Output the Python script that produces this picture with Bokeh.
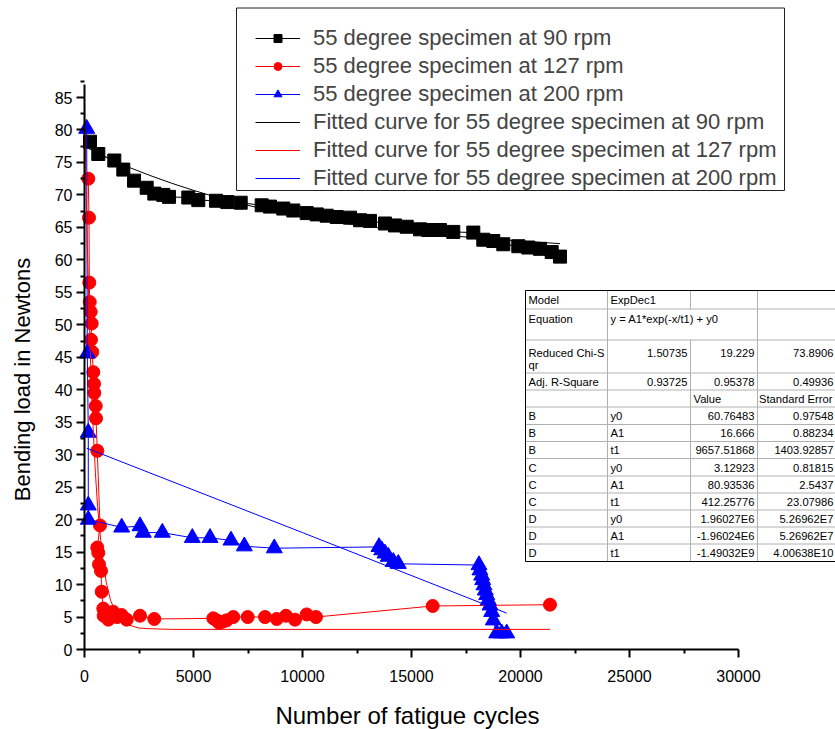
import math
from bokeh.plotting import figure
from bokeh.models import Range1d, FixedTicker, Legend, LegendItem, BoxAnnotation, Label
from bokeh.embed import file_html
from bokeh.resources import INLINE
from bokeh.core.properties import value

# ---------------- data ----------------
cycles_90 = [252, 633, 1367, 1780, 2271, 2853, 3202, 3615, 3876, 4761, 5220, 6032, 6550, 7165,
             8128, 8509, 9119, 9578, 10193, 10651, 11110, 11569, 12179, 12638, 13096, 13784, 14243,
             14780, 15390, 15771, 16307, 16917, 17835, 18294, 18752, 19211, 19899, 20358, 20894,
             21431, 21812]
load_90 = [78.2, 76.3, 75.3, 73.9, 72.2, 71.1, 70.2, 70.0, 69.7, 69.6, 69.2, 69.1, 68.9, 68.8,
           68.4, 68.2, 67.9, 67.6, 67.2, 67.0, 66.8, 66.6, 66.5, 66.1, 66.0, 65.6, 65.3,
           65.1, 64.7, 64.6, 64.6, 64.3, 64.2, 63.1, 62.9, 62.4, 62.1, 61.9, 61.7,
           61.2, 60.5]

cycles_127 = [174, 206, 220, 240, 284, 330, 298, 358, 404, 436, 450, 514, 528, 587, 711, 587, 633,
              665, 757, 789, 862, 880, 1092, 1321, 1500, 1706, 1936, 2546, 3202, 5908, 6050, 6183,
              6350, 6523, 6826, 7486, 8280, 8817, 9243, 9656, 10193, 10619, 15972, 21353]
load_127 = [72.5, 66.5, 56.5, 53.5, 52.0, 50.2, 47.7, 45.8, 42.7, 40.9, 39.5, 37.5, 35.6, 30.6, 19.1,
            15.7, 14.9, 13.1, 12.1, 8.9, 6.3, 5.2, 4.6, 5.8, 5.0, 5.3, 4.6, 5.2, 4.7, 4.8, 4.5, 4.1,
            4.3, 4.5, 5.0, 5.0, 5.0, 4.7, 5.2, 4.6, 5.4, 5.0, 6.7, 6.9]

cycles_200 = [101, 128, 174, 174, 174, 1706, 2546, 2697, 3569, 4945, 5757, 6720, 7330, 8706, 13509,
              13633, 13784, 13936, 14165, 14394, 18096, 18142, 18220, 18266, 18326, 18385, 18450,
              18523, 18601, 18679, 18752, 18908, 19138, 19367]
load_200 = [80.2, 45.6, 33.4, 22.2, 20.0, 18.8, 19.0, 18.0, 18.0, 17.2, 17.2, 16.8, 15.9, 15.6, 15.8,
            15.3, 14.8, 14.3, 13.5, 13.2, 13.0, 12.2, 11.4, 10.7, 9.9, 9.1, 8.4,
            7.6, 6.8, 5.8, 4.5, 2.5, 2.5, 2.5]

fit_90_x = [100, 1000, 2000, 3000, 4000, 5000, 6000, 7000, 8000, 9000, 10000, 12000, 14000, 16000,
            18000, 20000, 21812]
fit_90_y = [77.3, 75.8, 74.3, 73.0, 71.8, 70.7, 69.7, 68.8, 68.0, 67.3, 66.7, 65.6, 64.7, 63.9,
            63.4, 62.9, 62.5]

fit_127_x = [0, 100, 200, 300, 400, 500, 600, 800, 1000, 1200, 1500, 2000, 2500, 3000, 4000, 21353]
fit_127_y = [84.1, 66.6, 53.0, 42.2, 33.8, 27.2, 22.0, 14.8, 10.3, 7.5, 5.3, 3.8, 3.3, 3.2, 3.1, 3.1]

fit_200_x = [101, 10000, 19367]
fit_200_y = [31.0, 18.0, 5.6]

series_labels = ["55 degree specimen at 90 rpm", "55 degree specimen at 127 rpm",
                 "55 degree specimen at 200 rpm",
                 "Fitted curve for 55 degree specimen at 90 rpm",
                 "Fitted curve for 55 degree specimen at 127 rpm",
                 "Fitted curve for 55 degree specimen at 200 rpm"]

x_ticks = [0, 5000, 10000, 15000, 20000, 25000, 30000]
y_ticks = [0, 5, 10, 15, 20, 25, 30, 35, 40, 45, 50, 55, 60, 65, 70, 75, 80, 85]
x_title = "Number of fatigue cycles"
y_title = "Bending load in Newtons"

# fit-result table (text of the cells)
tbl_col1 = ["Model", "Equation", "Reduced Chi-S", "Adj. R-Square", "",
            "B", "B", "B", "C", "C", "C", "D", "D", "D"]
tbl_col2 = ["ExpDec1", "y = A1*exp(-x/t1) + y0", "", "", "",
            "y0", "A1", "t1", "y0", "A1", "t1", "y0", "A1", "t1"]
tbl_num2 = ["", "", "1.50735", "0.93725", "", "", "", "", "", "", "", "", "", ""]
tbl_num3 = ["", "", "19.229", "0.95378", "", "60.76483", "16.666", "9657.51868", "3.12923",
            "80.93536", "412.25776", "1.96027E6", "-1.96024E6", "-1.49032E9"]
tbl_num4 = ["", "", "73.8906", "0.49936", "", "0.97548", "0.88234", "1403.92857", "0.81815",
            "2.5437", "23.07986", "5.26962E7", "5.26962E7", "4.00638E10"]
tbl_hdr3 = "Value"
tbl_hdr4 = "Standard Error"

# ---------------- layout helpers (page pixel -> data) ----------------
W, H = 835, 729
PX_X = 0.0218      # px per cycle
PX_Y = 6.494       # px per newton
LEFT = 84          # page x of the y axis (x = 0)
BOTTOM = 649       # page y of the x axis (y = 0)


def X(px):
    return (px - LEFT) / PX_X


def Y(py):
    return (BOTTOM - py) / PX_Y


FONT = value("Liberation Sans")

# the frame covers the whole canvas; the axes are pinned at x=0 / y=0
p = figure(width=W, height=H, output_backend="svg", toolbar_location=None,
           x_range=Range1d(X(0), X(W)), y_range=Range1d(Y(H), Y(0)),
           min_border_left=0, min_border_right=0, min_border_top=0, min_border_bottom=0)
p.outline_line_color = None
p.grid.visible = False
p.background_fill_color = "white"
p.border_fill_color = "white"

for ax in (p.xaxis[0], p.yaxis[0]):
    ax.fixed_location = 0
    ax.axis_line_width = 2
    ax.major_tick_line_width = 2
    ax.minor_tick_line_width = 2
    ax.major_tick_in = 0
    ax.major_tick_out = 8
    ax.minor_tick_in = 0
    ax.minor_tick_out = 4
    ax.major_label_text_font = "Liberation Sans"
    ax.major_label_text_font_size = "16px"
    ax.major_label_text_color = "black"

p.xaxis.ticker = FixedTicker(ticks=x_ticks, minor_ticks=[t + 2500 for t in x_ticks[:-1]])
p.yaxis.ticker = FixedTicker(ticks=y_ticks, minor_ticks=[t + 2.5 for t in y_ticks])
p.xaxis.bounds = (0, 30000)
p.yaxis.bounds = (0, 87)
p.xaxis.major_label_standoff = 12
p.yaxis.major_label_standoff = 4

# axis titles, centred on the drawn axis extent
p.add_layout(Label(x=X(407), y=Y(715), text=x_title, text_align="center",
                   text_baseline="middle", text_font="Liberation Sans",
                   text_font_size="24px", text_color="black"))
p.add_layout(Label(x=X(22), y=Y(379), text=y_title, angle=math.pi / 2, text_align="center",
                   text_baseline="middle", text_font="Liberation Sans",
                   text_font_size="22px", text_color="black"))

# ---------------- series ----------------
l90 = p.line(cycles_90, load_90, line_color="black", line_width=1)
m90 = p.scatter(cycles_90, load_90, marker="square", size=13, color="black")
l127 = p.line(cycles_127, load_127, line_color="#ff0000", line_width=1)
m127 = p.scatter(cycles_127, load_127, marker="circle", size=13, color="#ff0000")
l200 = p.line(cycles_200, load_200, line_color="#0000ff", line_width=1)
m200 = p.scatter(cycles_200, load_200, marker="triangle", size=16, color="#0000ff")
f90 = p.line(fit_90_x, fit_90_y, line_color="black", line_width=1)
f127 = p.line(fit_127_x, fit_127_y, line_color="#ff0000", line_width=1)
f200 = p.line(fit_200_x, fit_200_y, line_color="#0000ff", line_width=1)

# ---------------- fit table ----------------
row_lines = [290, 308.5, 339.5, 372.5, 389.5, 406.5, 424, 441, 458, 475.5, 492.5, 509.5, 526.5,
             543.5, 561]
col_lines = [525, 607, 690, 757, 840]
row_text = [299, 318, 352, 381, 398, 415, 432.5, 449.5, 467, 484, 501, 518, 535, 552]
TFS = "11.2px"

p.quad(left=[X(col_lines[0])], right=[X(col_lines[-1])], top=[Y(row_lines[0])],
       bottom=[Y(row_lines[-1])], fill_color="white", line_color=None)
p.segment(x0=[X(col_lines[0])] * (len(row_lines) - 2), x1=[X(col_lines[-1])] * (len(row_lines) - 2),
          y0=[Y(r) for r in row_lines[1:-1]], y1=[Y(r) for r in row_lines[1:-1]],
          line_color="#b0b0b0", line_width=1)
vx0, vy0, vy1 = [], [], []
for c in col_lines[1:-1]:
    if c == 690:
        vx0 += [X(c), X(c)]
        vy0 += [Y(row_lines[0]), Y(row_lines[2])]
        vy1 += [Y(row_lines[1]), Y(row_lines[-1])]
    else:
        vx0.append(X(c))
        vy0.append(Y(row_lines[0]))
        vy1.append(Y(row_lines[-1]))
p.segment(x0=vx0, x1=vx0, y0=vy0, y1=vy1, line_color="#b0b0b0", line_width=1)
p.quad(left=[X(col_lines[0])], right=[X(col_lines[-1])], top=[Y(row_lines[0])],
       bottom=[Y(row_lines[-1])], fill_color=None, line_color="black", line_width=1)

tx, ty, tt = [], [], []
for i in range(len(tbl_col1)):
    if tbl_col1[i]:
        tx.append(X(528)); ty.append(Y(row_text[i])); tt.append(tbl_col1[i])
    if tbl_col2[i]:
        tx.append(X(610)); ty.append(Y(row_text[i])); tt.append(tbl_col2[i])
tx.append(X(528)); ty.append(Y(364)); tt.append("qr")
tx.append(X(693)); ty.append(Y(row_text[4])); tt.append(tbl_hdr3)
tx.append(X(758.5)); ty.append(Y(row_text[4])); tt.append(tbl_hdr4)
p.text(x=tx, y=ty, text=tt, text_font=FONT, text_font_size=TFS, text_color="black",
       text_align="left", text_baseline="middle")

rx, ry, rt = [], [], []
for i in range(len(tbl_col1)):
    for txt, edge in ((tbl_num2[i], 687), (tbl_num3[i], 754), (tbl_num4[i], 833)):
        if txt:
            rx.append(X(edge)); ry.append(Y(row_text[i])); rt.append(txt)
p.text(x=rx, y=ry, text=rt, text_font=FONT, text_font_size=TFS, text_color="black",
       text_align="right", text_baseline="middle")

# ---------------- legend ----------------
box = BoxAnnotation(left=X(236), right=X(784), top=Y(7.5), bottom=Y(190),
                    fill_color="white", fill_alpha=1.0, line_color="#202020", line_alpha=1.0,
                    line_width=1)
p.add_layout(box)

items = [LegendItem(label=series_labels[0], renderers=[l90, m90]),
         LegendItem(label=series_labels[1], renderers=[l127, m127]),
         LegendItem(label=series_labels[2], renderers=[l200, m200]),
         LegendItem(label=series_labels[3], renderers=[f90]),
         LegendItem(label=series_labels[4], renderers=[f127]),
         LegendItem(label=series_labels[5], renderers=[f200])]
legend = Legend(items=items, location=(255, H - 191), padding=0, margin=0,
                spacing=2, glyph_width=45, glyph_height=20, label_height=20,
                label_standoff=13, label_text_font="Liberation Sans",
                label_text_font_size="22px", border_line_alpha=0, background_fill_alpha=0)
p.add_layout(legend)

open("out.html", "w").write(file_html(p, INLINE))
